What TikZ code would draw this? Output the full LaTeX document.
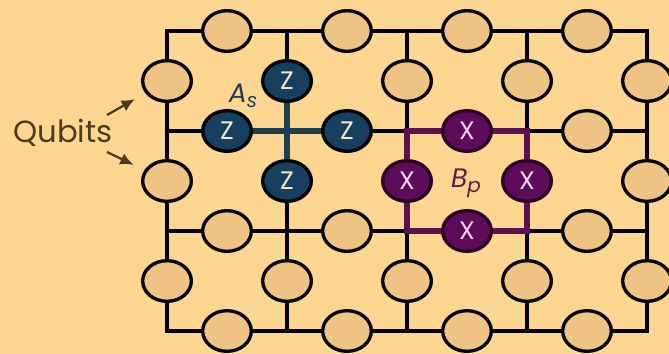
\documentclass[tikz,border=0pt]{standalone}
\usepackage{fontspec}
\setmainfont{Poppins}
\usetikzlibrary{arrows.meta, shapes.geometric, calc}
\definecolor{bgpeach}{RGB}{253,215,146}
\definecolor{qubittan}{RGB}{239,195,131}
\definecolor{zblue}{RGB}{22,64,94}
\definecolor{zline}{RGB}{30,63,82}
\definecolor{zletter}{RGB}{243,232,200}
\definecolor{xpurple}{RGB}{94,11,90}
\definecolor{xline}{RGB}{91,16,80}
\definecolor{xborder}{RGB}{40,3,38}
\definecolor{xletter}{RGB}{245,215,232}
\definecolor{textbrown}{RGB}{77,59,31}
\definecolor{bpcolor}{RGB}{106,21,69}

\begin{document}
\begin{tikzpicture}[
  x=0.75pt, y=-0.75pt,
  qubit/.style={ellipse, draw=black, line width=2.5pt, fill=qubittan, minimum width=36.5pt, minimum height=30.5pt, inner sep=0pt},
  zqubit/.style={qubit, fill=zblue, text=zletter, font=\fontsize{19}{21}\selectfont},
  xqubit/.style={qubit, draw=xborder, fill=xpurple, text=xletter, font=\fontsize{19}{21}\selectfont},
  edge/.style={line width=2.7pt, draw=black},
  zedge/.style={line width=4pt, draw=zline},
  xedge/.style={line width=4pt, draw=xline},
  arr/.style={-{Latex[length=10pt,width=9pt]}, line width=1.7pt, draw=textbrown, shorten >=9pt}
]
\useasboundingbox[fill=bgpeach] (0,0) rectangle (669,354);

% lattice vertices
\foreach \r in {0,...,3}
  \foreach \c in {0,...,4}
    \coordinate (g-\r-\c) at ({167+120*\c},{31+100*\r});

% lattice edges
\draw[edge, line join=miter] (g-0-0) rectangle (g-3-4);
\foreach \r in {1,2}
  \draw[edge] (g-\r-0) -- (g-\r-4);
\foreach \c in {1,2,3}
  \draw[edge] (g-0-\c) -- (g-3-\c);

% star and plaquette
\draw[zedge] ($(g-1-0)!0.5!(g-1-1)$) -- ($(g-1-1)!0.5!(g-1-2)$);
\draw[zedge] ($(g-0-1)!0.5!(g-1-1)$) -- ($(g-1-1)!0.5!(g-2-1)$);
\draw[xedge, line join=miter] (g-1-2) rectangle (g-2-3);

% qubits on horizontal edges
\foreach \r/\c in {0/0,0/1,0/2,0/3,1/3,2/0,2/1,2/3,3/0,3/1,3/2,3/3}
  \node[qubit] (h-\r-\c) at ({227+120*\c},{31+100*\r}) {};
% qubits on vertical edges
\foreach \r/\c in {0/0,0/2,0/3,0/4,1/0,1/4,2/0,2/1,2/2,2/3,2/4}
  \node[qubit] (v-\r-\c) at ({167+120*\c},{81+100*\r}) {};

% Z qubits of the star
\node[zqubit] (h-1-0) at (227,131) {Z};
\node[zqubit] (h-1-1) at (347,131) {Z};
\node[zqubit] (v-0-1) at (287,81) {Z};
\node[zqubit] (v-1-1) at (287,181) {Z};

% X qubits of the plaquette
\node[xqubit] (h-1-2) at (467,131) {X};
\node[xqubit] (h-2-2) at (467,231) {X};
\node[xqubit] (v-1-2) at (407,181) {X};
\node[xqubit] (v-1-3) at (527,181) {X};

% labels
\node[text=zline, font=\fontsize{20}{22}\selectfont] (as) at (243,96)
  {\textit{A}\raisebox{-0.35ex}{\fontsize{15}{17}\selectfont\textit{s}}};
\node[text=bpcolor, font=\fontsize{20}{22}\selectfont] (bp) at (466,183)
  {\textit{B}\raisebox{-0.35ex}{\fontsize{15}{17}\selectfont\textit{p}}};
\node[text=textbrown, font=\fontsize{23}{26}\selectfont] (qubits) at (63,133) {Qubits};

\coordinate (qa) at (107,115);
\coordinate (qb) at (107,152);
\draw[arr] (qa) -- (v-0-0);
\draw[arr] (qb) -- (v-1-0);
\end{tikzpicture}
\end{document}
